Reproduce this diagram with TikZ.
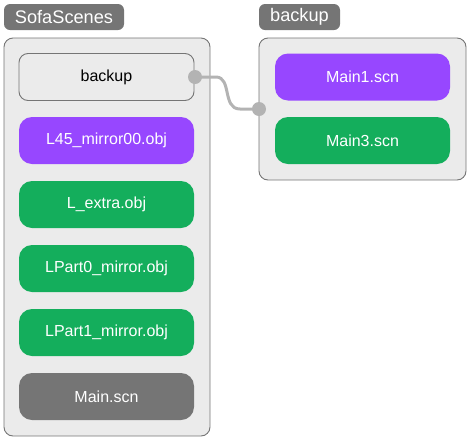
\documentclass[tikz,border=0pt]{standalone}
\usepackage{fontspec}
\setmainfont{Liberation Sans}
\definecolor{tabgray}{HTML}{757575}
\definecolor{boxfill}{HTML}{EBEBEB}
\definecolor{purp}{HTML}{9747FF}
\definecolor{grn}{HTML}{14AE5C}
\definecolor{conn}{HTML}{B3B3B3}
\tikzset{
  container/.style={draw=tabgray, fill=boxfill, rounded corners=9pt, line width=0.9pt},
  tab/.style={fill=tabgray, rounded corners=6pt, text=white, font=\fontsize{18.2}{20}\selectfont, inner sep=0pt, anchor=center},
  item/.style={rounded corners=13pt, minimum width=175pt, minimum height=47pt, inner sep=0pt, font=\fontsize{16}{18}\selectfont, anchor=center},
  purple item/.style={item, fill=purp, text=white},
  green item/.style={item, fill=grn, text=white},
  gray item/.style={item, fill=tabgray, text=white},
  folder item/.style={item, fill=boxfill, draw=tabgray, line width=0.9pt, text=black, rounded corners=9pt},
  dot/.style={circle, fill=conn, minimum size=14pt, inner sep=0pt},
}
\begin{document}
\begin{tikzpicture}[x=1pt,y=-1pt]
\useasboundingbox (0,0) rectangle (469,440);
% tabs
\node[tab, minimum width=120pt, minimum height=26pt] (tabL) at (64,17) {SofaScenes};
\node[tab, minimum width=81pt, minimum height=26pt] (tabR) at (299.5,17) {backup};
% containers
\draw[container] (4,38) rectangle (210,436);
\draw[container] (259,38) rectangle (466,180);
% left items
\node[folder item] (backup) at (106.5,77) {backup};
\node[purple item] (l45) at (106.5,140.5) {L45\_mirror00.obj};
\node[green item] (lextra) at (106.5,204.5) {L\_extra.obj};
\node[green item] (lp0) at (106.5,268.5) {LPart0\_mirror.obj};
\node[green item] (lp1) at (106.5,332.5) {LPart1\_mirror.obj};
\node[gray item] (main) at (106.5,396.5) {Main.scn};
% right items
\node[purple item] (m1) at (362.5,77) {Main1.scn};
\node[green item] (m3) at (362.5,140.5) {Main3.scn};
% connector
\coordinate (src) at (195,77);
\coordinate (dst) at (259,109);
\draw[conn, line width=3pt] (src) -- (216,77) .. controls (232,77) and (222,109) .. (240,109) -- (dst);
\node[dot] (d1) at (src) {};
\node[dot] (d2) at (dst) {};
\end{tikzpicture}
\end{document}
